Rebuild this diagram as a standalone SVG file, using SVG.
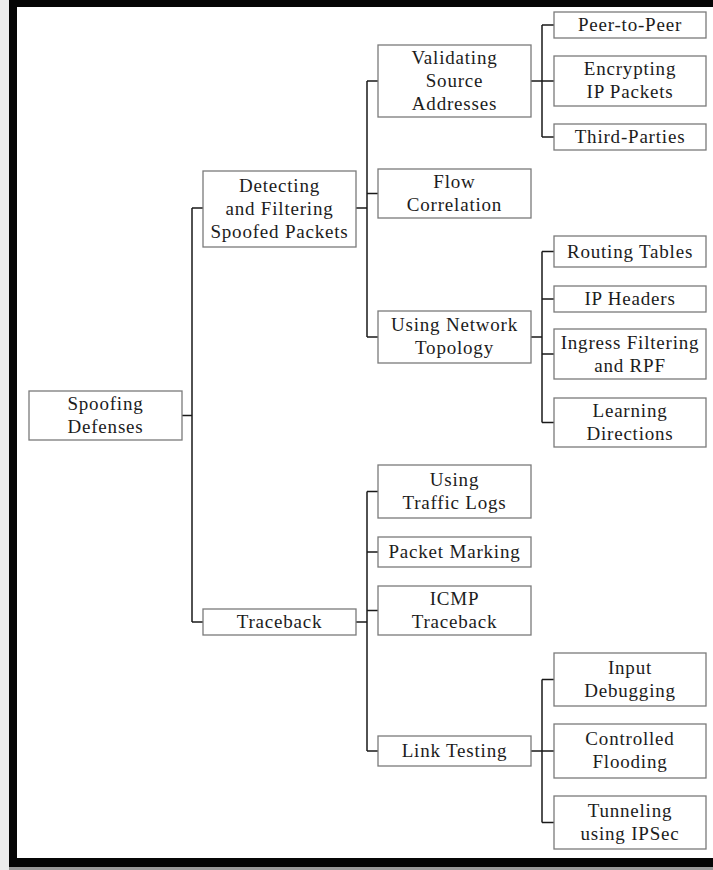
<svg xmlns="http://www.w3.org/2000/svg" width="713" height="870" viewBox="0 0 713 870">
  <style>
    .box { fill: #ffffff; stroke: #7a7a7a; stroke-width: 1.3; }
    .lbl { font-family: "Liberation Serif", "Times New Roman", serif; font-size: 19px; letter-spacing: 0.8px; fill: #1c1c1c; text-anchor: middle; }
    .wire { fill: none; stroke: #1a1a1a; stroke-width: 1.5; }
  </style>

  <!-- page and frame -->
  <rect x="0" y="0" width="713" height="870" fill="#ececec"/>
  <rect x="9" y="0" width="704" height="867" fill="#ffffff"/>
  <rect x="9" y="0" width="704" height="7" fill="#050505"/>
  <rect x="9" y="0" width="8" height="867" fill="#050505"/>
  <rect x="9" y="858" width="704" height="9" fill="#050505"/>
  <rect x="9" y="867" width="704" height="3" fill="#9a9a9a"/>

  <!-- connectors -->
  <g id="connectors" class="wire">
    <!-- root -->
    <path d="M182 415.5H192M192 208V622M192 208H203M192 622H203"/>
    <!-- detecting -->
    <path d="M356 208H367M367 81V337M367 81H378M367 193.5H378M367 337H378"/>
    <!-- traceback -->
    <path d="M356 622H367M367 491.5V751M367 491.5H378M367 552H378M367 610.5H378M367 751H378"/>
    <!-- validating -->
    <path d="M531 81H542M542 25V137M542 25H554M542 81H554M542 137H554"/>
    <!-- network topology -->
    <path d="M531 337H542M542 251.5V422.5M542 251.5H554M542 299H554M542 354H554M542 422.5H554"/>
    <!-- link testing -->
    <path d="M531 751H542M542 679.5V822.5M542 679.5H554M542 751H554M542 822.5H554"/>
  </g>

  <!-- level 1 -->
  <g id="spoofing-defenses">
    <rect class="box" x="29" y="391" width="153" height="49"/>
    <text class="lbl" x="105.5" y="410">Spoofing</text>
    <text class="lbl" x="105.5" y="433">Defenses</text>
  </g>

  <!-- level 2 -->
  <g id="detecting">
    <rect class="box" x="203" y="171" width="153" height="76"/>
    <text class="lbl" x="279.5" y="192">Detecting</text>
    <text class="lbl" x="279.5" y="215">and Filtering</text>
    <text class="lbl" x="279.5" y="238">Spoofed Packets</text>
  </g>
  <g id="traceback">
    <rect class="box" x="203" y="609" width="153" height="26"/>
    <text class="lbl" x="279.5" y="628">Traceback</text>
  </g>

  <!-- level 3 -->
  <g id="validating">
    <rect class="box" x="378" y="45" width="153" height="72"/>
    <text class="lbl" x="454.5" y="64">Validating</text>
    <text class="lbl" x="454.5" y="87">Source</text>
    <text class="lbl" x="454.5" y="110">Addresses</text>
  </g>
  <g id="flow-correlation">
    <rect class="box" x="378" y="169" width="153" height="49"/>
    <text class="lbl" x="454.5" y="188">Flow</text>
    <text class="lbl" x="454.5" y="211">Correlation</text>
  </g>
  <g id="network-topology">
    <rect class="box" x="378" y="311" width="153" height="52"/>
    <text class="lbl" x="454.5" y="331">Using Network</text>
    <text class="lbl" x="454.5" y="354">Topology</text>
  </g>
  <g id="traffic-logs">
    <rect class="box" x="378" y="465" width="153" height="53"/>
    <text class="lbl" x="454.5" y="486">Using</text>
    <text class="lbl" x="454.5" y="509">Traffic Logs</text>
  </g>
  <g id="packet-marking">
    <rect class="box" x="378" y="537" width="153" height="30"/>
    <text class="lbl" x="454.5" y="558">Packet Marking</text>
  </g>
  <g id="icmp-traceback">
    <rect class="box" x="378" y="586" width="153" height="49"/>
    <text class="lbl" x="454.5" y="605">ICMP</text>
    <text class="lbl" x="454.5" y="628">Traceback</text>
  </g>
  <g id="link-testing">
    <rect class="box" x="378" y="736" width="153" height="30"/>
    <text class="lbl" x="454.5" y="757">Link Testing</text>
  </g>

  <!-- level 4 -->
  <g id="peer-to-peer">
    <rect class="box" x="554" y="12" width="152" height="26"/>
    <text class="lbl" x="630" y="31">Peer-to-Peer</text>
  </g>
  <g id="encrypting">
    <rect class="box" x="554" y="56" width="152" height="50"/>
    <text class="lbl" x="630" y="75">Encrypting</text>
    <text class="lbl" x="630" y="98">IP Packets</text>
  </g>
  <g id="third-parties">
    <rect class="box" x="554" y="124" width="152" height="26"/>
    <text class="lbl" x="630" y="143">Third-Parties</text>
  </g>
  <g id="routing-tables">
    <rect class="box" x="554" y="236" width="152" height="31"/>
    <text class="lbl" x="630" y="257.5">Routing Tables</text>
  </g>
  <g id="ip-headers">
    <rect class="box" x="554" y="286" width="152" height="26"/>
    <text class="lbl" x="630" y="305">IP Headers</text>
  </g>
  <g id="ingress-filtering">
    <rect class="box" x="554" y="329" width="152" height="50"/>
    <text class="lbl" x="630" y="348.5">Ingress Filtering</text>
    <text class="lbl" x="630" y="371.5">and RPF</text>
  </g>
  <g id="learning-directions">
    <rect class="box" x="554" y="398" width="152" height="49"/>
    <text class="lbl" x="630" y="417">Learning</text>
    <text class="lbl" x="630" y="440">Directions</text>
  </g>
  <g id="input-debugging">
    <rect class="box" x="554" y="653" width="152" height="53"/>
    <text class="lbl" x="630" y="674">Input</text>
    <text class="lbl" x="630" y="697">Debugging</text>
  </g>
  <g id="controlled-flooding">
    <rect class="box" x="554" y="724" width="152" height="54"/>
    <text class="lbl" x="630" y="745">Controlled</text>
    <text class="lbl" x="630" y="768">Flooding</text>
  </g>
  <g id="tunneling">
    <rect class="box" x="554" y="796" width="152" height="53"/>
    <text class="lbl" x="630" y="817">Tunneling</text>
    <text class="lbl" x="630" y="840">using IPSec</text>
  </g>
</svg>
